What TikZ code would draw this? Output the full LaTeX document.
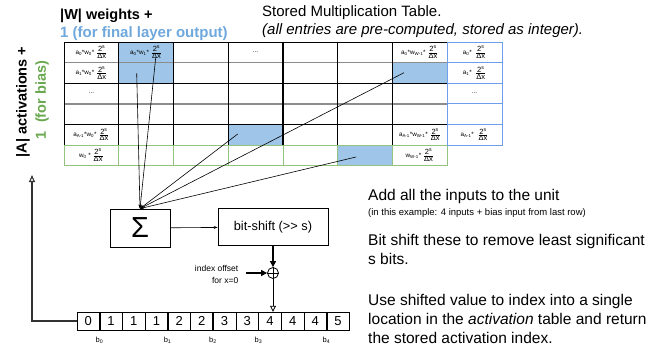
\documentclass[tikz,border=0pt]{standalone}
\usepackage{fontspec}
\setmainfont{Liberation Sans}
\usetikzlibrary{arrows.meta}
\definecolor{cellblue}{HTML}{9FC5E8}
\definecolor{lineblue}{HTML}{6D9EEB}
\definecolor{textblue}{HTML}{6FA8DC}
\definecolor{rowgreen}{HTML}{93C47D}
\definecolor{textgreen}{HTML}{6AA84F}
\newcommand{\sdx}{\ensuremath{\frac{\mbox{\fontsize{7.5}{8}\selectfont 2\textsuperscript{s}}}{\mbox{\fontsize{7.5}{8}\selectfont Δx}}}}
\begin{document}
\begin{tikzpicture}[x=1pt,y=-1pt,
		tcell/.style={font=\fontsize{6.3}{7}\selectfont,inner sep=0pt},
		acell/.style={draw,minimum width=22.7pt,minimum height=18pt,inner sep=0pt,font=\fontsize{13}{13}\selectfont},
		opbox/.style={draw,line width=0.8pt,inner sep=0pt},
		feed/.style={line width=0.6pt,-{Stealth[length=4pt,width=3pt]}},
		note/.style={anchor=north west,inner sep=0pt,align=left,font=\fontsize{15.5}{19}\selectfont}]
		\useasboundingbox (0,0) rectangle (650,349);
		% highlighted entries
		\fill[cellblue] (118.75,42) rectangle (173.5,83.2);
		\fill[cellblue] (228.25,124.4) rectangle (283,145);
		\fill[cellblue] (392.5,62.6) rectangle (447.25,83.2);
		\fill[cellblue] (337.75,145) rectangle (392.5,165.6);
		% table grid
		\foreach \y in {42,83.2,124.4}
			\draw[line width=0.7pt] (64,\y) to (447.25,\y);
		\foreach \y in {62.6,103.8}
			\draw[line width=1.4pt,black!45] (64,\y) to (447.25,\y);
		\foreach \i in {0,1,2,5,6}
			\draw[line width=0.7pt] ({64+54.75*\i},42) to ({64+54.75*\i},145);
		\foreach \i in {3,4}
			\draw[line width=1.4pt] ({64+54.75*\i},42) to ({64+54.75*\i},145);
		\foreach \i in {0,...,7}
			\draw[rowgreen,line width=0.9pt] ({64+54.75*\i},145) to ({64+54.75*\i},165.6);
		\draw[rowgreen,line width=0.9pt] (64,145) to (447.25,145) to (447.25,165.6) to (64,165.6);
		\foreach \y in {62.6,83.2,103.8,124.4}
			\draw[lineblue,line width=0.9pt] (447.25,\y) to (502,\y);
		\draw[lineblue,line width=0.9pt] (447.25,42) rectangle (502,145);
		% entries
		\node[tcell] (a0w0) at (91.4,52.3) {a\textsubscript{0}*w\textsubscript{0}*\ \sdx};
		\node[tcell] (a0w1) at (146.1,52.3) {a\textsubscript{0}*w\textsubscript{1}*\ \sdx};
		\node[tcell] (a0dots) at (255.6,52.3) {...};
		\node[tcell] (a0wl) at (419.9,52.3) {a\textsubscript{0}*w\textsubscript{W-1}*\ \sdx};
		\node[tcell] (a0b) at (474.6,52.3) {a\textsubscript{0}*\ \ \sdx};
		\node[tcell] (a1w0) at (91.4,72.9) {a\textsubscript{1}*w\textsubscript{0}*\ \sdx};
		\node[tcell] (a1b) at (474.6,72.9) {a\textsubscript{1}*\ \ \sdx};
		\node[tcell] (rdots) at (91.4,93.5) {...};
		\node[tcell] (bdots) at (474.6,93.5) {...};
		\node[tcell] (alw0) at (91.4,134.7) {a\textsubscript{A-1}*w\textsubscript{0}*\ \sdx};
		\node[tcell] (alwl) at (419.9,134.7) {a\textsubscript{A-1}*w\textsubscript{W-1}*\ \sdx};
		\node[tcell] (alb) at (474.6,134.7) {a\textsubscript{A-1}*\ \ \sdx};
		\node[tcell] (w0) at (91.4,155.3) {w\textsubscript{0}\ *\ \sdx};
		\node[tcell] (wl) at (419.9,155.3) {w\textsubscript{W-1}*\ \sdx};
		% headings
		\node[anchor=west,inner sep=0pt,font=\bfseries\fontsize{14.5}{15}\selectfont] (wtitle) at (60,16) {|W| weights +};
		\node[anchor=west,inner sep=0pt,text=textblue,font=\bfseries\fontsize{15}{15}\selectfont] (wextra) at (60,33.5) {1 (for final layer output)};
		\node[anchor=west,inner sep=0pt,font=\fontsize{15}{16}\selectfont] (ttitle) at (262,13) {Stored Multiplication Table.};
		\node[anchor=west,inner sep=0pt,font=\itshape\fontsize{15}{16}\selectfont] (tsub) at (262,30.5) {(all entries are pre-computed, stored as integer).};
		\node[rotate=90,inner sep=0pt,font=\bfseries\fontsize{14.5}{15}\selectfont] (atitle) at (23,102) {|A| activations +};
		\node[rotate=90,inner sep=0pt,text=textgreen,font=\bfseries\fontsize{14.5}{15}\selectfont] (aextra) at (42,100) {1 \ (for bias)};
		% summing unit
		\node[opbox,minimum width=60pt,minimum height=38pt,font=\fontsize{29}{29}\selectfont] (sum) at (140,228) {Σ};
		\node[opbox,minimum width=110pt,minimum height=37pt,font=\fontsize{12.8}{13}\selectfont] (shift) at (273,227) {bit-shift (>{}> s)};
		\coordinate (p1) at (136.7,73.3);
		\coordinate (p2) at (155.7,57.7);
		\coordinate (p3) at (237.7,134);
		\coordinate (p4) at (404,72.7);
		\coordinate (p5) at (356,157);
		\foreach \p in {p1,p2,p3,p4,p5}
			\draw[feed] (\p) to (sum.north);
		\draw[line width=0.6pt,-{Stealth[length=4pt,width=3pt]}] (sum) to (shift);
		\node[draw,circle,line width=0.8pt,minimum size=11pt,inner sep=0pt] (add) at (273,273) {};
		\draw[line width=0.8pt] (add.north) to (add.south);
		\draw[line width=0.8pt] (add.west) to (add.east);
		\draw[line width=1.2pt,-{Triangle[length=6pt,width=6pt]}] (shift) to (add);
		\coordinate (offin) at (246,273);
		\draw[line width=1.2pt,-{Triangle[length=6pt,width=6pt]}] (offin) to (add);
		\node[anchor=east,align=right,inner sep=0pt,font=\fontsize{8.5}{12}\selectfont] (offtext) at (238.5,274.5) {index offset\\for x=0};
		% activation table
		\foreach \v [count=\i from 0] in {0,1,1,1,2,2,3,3,4,4,4,5}
			\node[acell] (v\i) at ({77+22.7*(\i+0.5)},321) {\v};
		\foreach \i/\b in {1/0,4/1,6/2,8/3,11/4}
			\draw[line width=1.4pt] (v\i.north west) to (v\i.south west) node[below=3pt,font=\fontsize{7.5}{8}\selectfont] (b\b) {b\textsubscript{\b}};
		\draw[line width=0.8pt,-{Triangle[open,length=6pt,width=6pt]}] (add) to (add |- v8.north);
		\coordinate (up) at (32,175);
		\draw[line width=1.1pt,black!80,-{Triangle[open,length=7pt,width=6pt]}] (v0.west) -| (up);
		% explanations
		\node[note] (n1) at (368,189) {Add all the inputs to the unit\\[-4pt]{\fontsize{9.5}{11}\selectfont (in this example: 4 inputs + bias input from last row)}};
		\node[note] (n2) at (368,234) {Bit shift these to remove least significant\\s bits.};
		\node[note] (n3) at (368,294) {Use shifted value to index into a single\\location in the \textit{activation} table and return\\the stored activation index.};
	\end{tikzpicture}
\end{document}
